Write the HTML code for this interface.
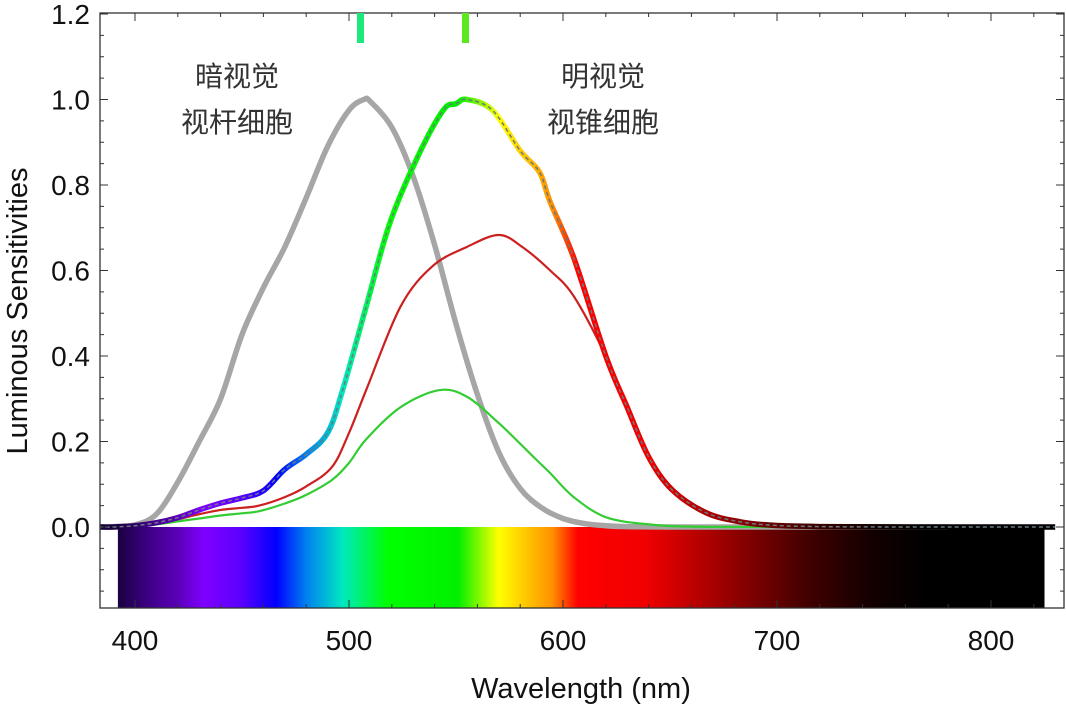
<!DOCTYPE html>
<html><head><meta charset="utf-8"><style>
body{margin:0;background:#fff;}
svg{display:block;font-family:"Liberation Sans","Noto Sans CJK SC",sans-serif;}
</style></head><body>
<svg id="chart" width="1066" height="708" viewBox="0 0 1066 708" xmlns="http://www.w3.org/2000/svg">
<defs>
<linearGradient id="spec" gradientUnits="userSpaceOnUse" x1="119" y1="0" x2="1044" y2="0"></linearGradient>
<clipPath id="plotclip"><rect x="100" y="13" width="964" height="595"/></clipPath>
</defs>
<g id="spectrum"></g>
<g id="curves" clip-path="url(#plotclip)"></g>
<g id="axes"></g>
<rect x="100" y="13" width="964" height="595" fill="none" stroke="#333" stroke-width="1.3"/>
<rect x="357" y="13" width="7" height="30" fill="#1de87a"/>
<rect x="462" y="13" width="7" height="30" fill="#5ce81e"/>
<g fill="#333" font-size="28" text-anchor="middle">
<text x="237" y="86">暗视觉</text>
<text x="237" y="132">视杆细胞</text>
<text x="603" y="86">明视觉</text>
<text x="603" y="132">视锥细胞</text>
</g>
<text x="581" y="698" font-size="29" text-anchor="middle" fill="#111">Wavelength (nm)</text>
<text transform="translate(27,311) rotate(-90)" font-size="29" text-anchor="middle" fill="#111">Luminous Sensitivities</text>
</svg>
<script>
// ---- data ----
const scotNm  = [383,390,400,410,420,430,440,450,460,470,480,490,500,507,510,520,530,540,550,560,570,580,590,600,610,620,630,650,700,780];
const scotVal = [0,0.001,0.005,0.03,0.105,0.2,0.3,0.45,0.56,0.655,0.77,0.89,0.975,1.0,0.995,0.935,0.82,0.66,0.475,0.31,0.175,0.09,0.045,0.02,0.008,0.003,0.001,0,0,0];
const photNm  = [383,390,400,410,420,430,440,450,460,470,480,490,497,508,519,532,544,550,555,567,580,589,594,605,620,630,640,651,667,683,698,720,760,830];
const photVal = [0,0,0.003,0.01,0.022,0.04,0.056,0.068,0.085,0.135,0.17,0.22,0.32,0.515,0.71,0.865,0.975,0.99,1.0,0.975,0.88,0.83,0.76,0.63,0.40,0.28,0.164,0.087,0.033,0.012,0.004,0.001,0,0];
const lNm  = [400,410,420,430,440,450,458,470,480,492,500,508,524,539,555,570,581,594,605,620,630,640,651,667,683,698,720,760];
const lVal = [0.002,0.008,0.018,0.03,0.04,0.045,0.05,0.07,0.095,0.14,0.22,0.32,0.515,0.61,0.655,0.683,0.655,0.60,0.54,0.40,0.28,0.164,0.087,0.033,0.012,0.004,0.001,0];
const mNm  = [400,410,420,430,440,450,458,470,480,492,500,508,524,542,555,570,586,594,605,620,640,660,700];
const mVal = [0.001,0.006,0.013,0.02,0.027,0.032,0.037,0.055,0.075,0.11,0.15,0.205,0.28,0.32,0.305,0.243,0.165,0.126,0.07,0.023,0.006,0.001,0];
const xTicks = [400,500,600,700,800];
const yTicks = [0,0.2,0.4,0.6,0.8,1.0,1.2];
const yTickLabels = ["0.0","0.2","0.4","0.6","0.8","1.0","1.2"];
const specNm  = [392,405,420,432,450,466,480,497,518,551,570,595,607,639,680,715,745,770,825];
const specCol = ["#1a0040","#3a0080","#5a00b8","#7f00ff","#5a00ff","#0000ff","#0080f0","#00e8c0","#00ff00","#00f000","#ffff00","#ff9000","#ff0000","#f00000","#900000","#400000","#120000","#000000","#000000"];
// ---- axes ----
const xs = nm => 135 + (nm-400)*2.14;
const ys = v => 527 - v*427.5;
const NS='http://www.w3.org/2000/svg';
function mk(tag, attrs, parent){const e=document.createElementNS(NS,tag);for(const k in attrs)e.setAttribute(k,attrs[k]);parent.appendChild(e);return e;}
function pathFrom(nms, vals){
  const p = nms.map((n,i)=>[xs(n),ys(vals[i])]);
  let d='M'+p[0][0].toFixed(1)+','+p[0][1].toFixed(1);
  for(let i=0;i<p.length-1;i++){
    const p0=p[Math.max(0,i-1)],p1=p[i],p2=p[i+1],p3=p[Math.min(p.length-1,i+2)];
    const c1=[p1[0]+(p2[0]-p0[0])/6,p1[1]+(p2[1]-p0[1])/6];
    const c2=[p2[0]-(p3[0]-p1[0])/6,p2[1]-(p3[1]-p1[1])/6];
    d+=' C'+c1[0].toFixed(1)+','+c1[1].toFixed(1)+' '+c2[0].toFixed(1)+','+c2[1].toFixed(1)+' '+p2[0].toFixed(1)+','+p2[1].toFixed(1);
  }
  return d;
}
// gradient
const grad=document.getElementById('spec');
const x1=xs(specNm[0]), x2=xs(specNm[specNm.length-1]);
grad.setAttribute('x1',x1);grad.setAttribute('x2',x2);
specNm.forEach((n,i)=>mk('stop',{offset:((xs(n)-x1)/(x2-x1)).toFixed(4),'stop-color':specCol[i]},grad));
// spectrum bar
const sg=document.getElementById('spectrum');
const bar=mk('rect',{x:x1,y:ys(0),width:x2-x1,height:608-ys(0),fill:'url(#spec)'},sg);


// curves
const cg=document.getElementById('curves');
const sc=mk('path',{d:pathFrom(scotNm,scotVal),fill:'none',stroke:'#a6a6a6','stroke-width':5.5,'stroke-linejoin':'round'},cg);


const mc=mk('path',{d:pathFrom(mNm,mVal),fill:'none',stroke:'#33cc33','stroke-width':2.2},cg);


const lc=mk('path',{d:pathFrom(lNm,lVal),fill:'none',stroke:'#cc2020','stroke-width':2.2},cg);


const pc=mk('path',{d:pathFrom(photNm,photVal),fill:'none',stroke:'url(#spec)','stroke-width':5.5,'stroke-linejoin':'round'},cg);


const pd=mk('path',{d:pathFrom(photNm,photVal),fill:'none',stroke:'#6a7a80','stroke-width':1.5,'stroke-dasharray':'4 3'},cg);


// ticks
const ag=document.getElementById('axes');
for(let n=380;n<=830;n+=20){
  const X=xs(n); if(X<100||X>1064) continue;
  const L = n%100===0?8:4;
  mk('line',{x1:X,y1:608,x2:X,y2:608-L,stroke:'#333','stroke-width':1},ag);
  mk('line',{x1:X,y1:13,x2:X,y2:13+L,stroke:'#333','stroke-width':1},ag);
}
for(let k=-3;k<=24;k++){
  const v=k*0.05, Y=ys(v); if(Y<13||Y>608) continue;
  const L = k%4===0?8:4;
  mk('line',{x1:100,y1:Y,x2:100+L,y2:Y,stroke:'#333','stroke-width':1},ag);
  mk('line',{x1:1064,y1:Y,x2:1064-L,y2:Y,stroke:'#333','stroke-width':1},ag);
}
xTicks.forEach(n=>{
  const t=mk('text',{x:xs(n),y:650,'font-size':28,'text-anchor':'middle',fill:'#111'},ag);
  t.textContent=n;
  
  
});
yTicks.forEach((v,i)=>{
  const t=mk('text',{x:90,y:ys(v)+10,'font-size':28,'text-anchor':'end',fill:'#111'},ag);
  t.textContent=yTickLabels[i];
  
  
});
</script>
</body></html>
